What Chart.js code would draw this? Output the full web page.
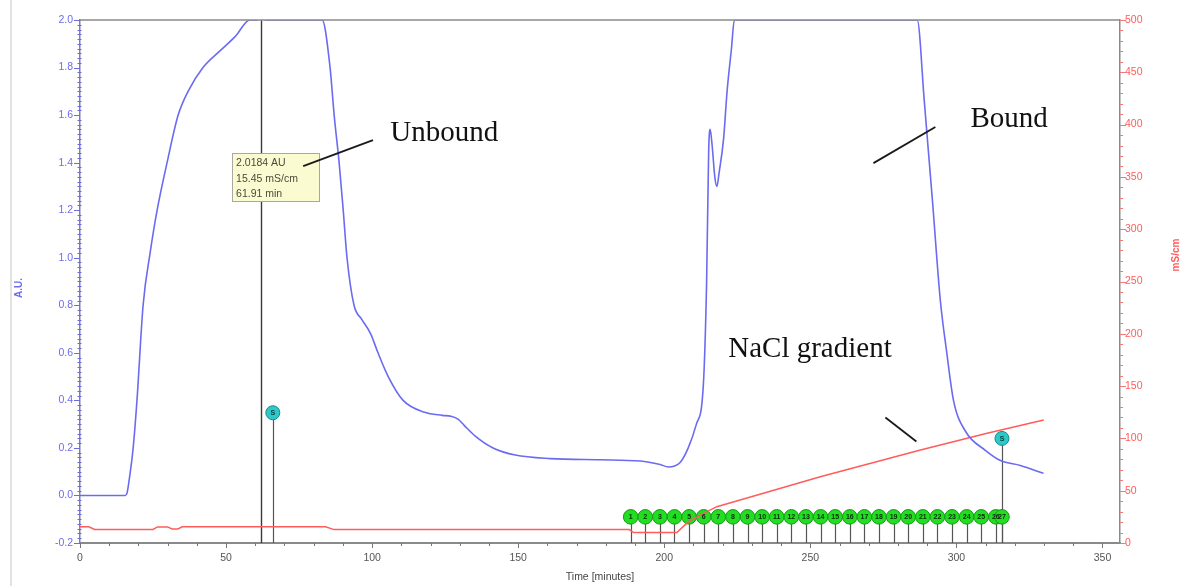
<!DOCTYPE html>
<html>
<head>
<meta charset="utf-8">
<script src="https://cdn.jsdelivr.net/npm/chart.js@4.4.1/dist/chart.umd.min.js"></script>
<style>
  html, body { margin: 0; padding: 0; background: #ffffff; }
  #wrap { width: 1182px; height: 586px; position: relative; }
</style>
</head>
<body>
<div id="wrap"><canvas id="c" width="1182" height="586"></canvas></div>
<script>
// UV absorbance trace: time (min) and absorbance (A.U.)
const uvTime = [0, 15.5, 16.1, 17.0, 18.2, 19.5, 21.6, 24.0, 26.4, 29.8, 33.6, 37.0, 42.1, 47.9, 53.1, 58.2,
  60.5, 61.91, 63.5, 82.9, 85.6, 87.0, 88.7, 90.1, 91.4, 93.8, 96.5, 99.5, 102.0, 105.5, 110.6, 118.0,
  124.0, 127.0, 129.5, 131.5, 135.3, 141.4, 149.0, 161.0, 178.0, 191.8, 198.6, 201.4, 205.5, 208.2, 211.0,
  213.3, 214.5, 215.2, 215.7, 216.4, 217.3, 218.0, 218.8, 220.3, 221.5, 223.0, 224.0, 286.6, 289.0,
  291.8, 294.5, 296.6, 299.0, 303.1, 309.9, 315.1, 321.9, 329.8];
const uvAbs = [0, 0, 0.01, 0.08, 0.2, 0.4, 0.8, 1.02, 1.2, 1.4, 1.6, 1.7, 1.8, 1.87, 1.93, 2.0,
  2.0, 2.0184, 2.0, 2.0, 1.8, 1.6, 1.4, 1.2, 1.0, 0.8, 0.74, 0.68, 0.6, 0.5, 0.4, 0.35,
  0.337, 0.333, 0.32, 0.295, 0.25, 0.2, 0.17, 0.155, 0.15, 0.145, 0.13, 0.12, 0.14, 0.2, 0.3,
  0.45, 0.9, 1.45, 1.54, 1.47, 1.34, 1.3, 1.36, 1.5, 1.7, 1.88, 2.0, 2.0, 1.66,
  1.24, 0.82, 0.61, 0.4, 0.27, 0.19, 0.147, 0.126, 0.093];

// Conductivity trace: time (min) and conductivity (mS/cm)
const condTime = [0, 3, 5, 25, 26.5, 30, 31.5, 33.5, 35, 61.91, 84, 87, 188, 189.5, 204.3, 208.3,
  213.5, 218, 253.4, 287.7, 310.5, 329.9];
const condVal = [15.6, 15.5, 13.0, 13.0, 15.4, 15.4, 13.4, 13.4, 15.45, 15.45, 15.45, 12.8, 12.8, 10.0, 10.0, 20.4,
  28.4, 34.7, 63.4, 88.9, 104.9, 117.6];

// Collected fractions (time of each fraction mark)
const fracTime = [188.5, 193.5, 198.5, 203.5, 208.5, 213.5, 218.5, 223.5, 228.5, 233.5, 238.5, 243.5, 248.5,
  253.5, 258.5, 263.5, 268.5, 273.5, 278.5, 283.5, 288.5, 293.5, 298.5, 303.5, 308.5, 313.5, 315.6];
const fracLabels = ['1','2','3','4','5','6','7','8','9','10','11','12','13','14','15','16','17','18','19',
  '20','21','22','23','24','25','26','27'];
const fracLevel = -0.09;

// Event markers (time, absorbance level)
const eventTime = [66.0, 315.6];
const eventLevel = [0.348, 0.24];
const eventLabels = ['S', 'S'];

// Cursor readout
const cursorTime = 61.91;
const cursorAbs = 2.0184;
const cursorCond = 15.45;
const cursorLines = ['2.0184 AU', '15.45 mS/cm', '61.91 min'];

// Axis ticks
const timeTicks = [0, 50, 100, 150, 200, 250, 300, 350];
const absTicks = [-0.2, 0.0, 0.2, 0.4, 0.6, 0.8, 1.0, 1.2, 1.4, 1.6, 1.8, 2.0];
const condTicks = [0, 50, 100, 150, 200, 250, 300, 350, 400, 450, 500];

// Text annotations: [text, time, absorbance baseline]
const notes = [
  ['Unbound', 106.2, 1.49],
  ['Bound', 304.8, 1.55],
  ['NaCl gradient', 221.9, 0.581]
];
// Pointer strokes: [t1, a1, t2, a2]
const pointers = [
  [76.4, 1.385, 100.3, 1.495],
  [271.6, 1.398, 292.8, 1.55],
  [275.7, 0.328, 286.3, 0.227]
];

const BLUE = '#6b6bf2';
const RED = '#ff5c5c';
const UI_FONT = "'Liberation Sans', Arial, sans-serif";

const zip = (xs, ys) => xs.map((x, i) => ({ x, y: ys[i] }));

const decor = {
  id: 'decor',
  beforeDraw(chart) {
    const ctx = chart.ctx;
    ctx.save();
    ctx.fillStyle = '#ffffff';
    ctx.fillRect(0, 0, chart.width, chart.height);
    // panel edge on the left
    ctx.strokeStyle = '#e2e2e2';
    ctx.lineWidth = 2;
    ctx.beginPath();
    ctx.moveTo(11, 0);
    ctx.lineTo(11, chart.height);
    ctx.stroke();
    ctx.restore();
  },
  beforeDatasetsDraw(chart) {
    const { ctx, scales, chartArea: ca } = chart;
    const x = scales.x, yA = scales.yAU;
    ctx.save();
    // fraction stems
    ctx.strokeStyle = '#555';
    ctx.lineWidth = 1.2;
    fracTime.forEach(t => {
      const px = Math.round(x.getPixelForValue(t)) + 0.5;
      ctx.beginPath();
      ctx.moveTo(px, yA.getPixelForValue(fracLevel));
      ctx.lineTo(px, ca.bottom);
      ctx.stroke();
    });
    eventTime.forEach((t, i) => {
      const px = Math.round(x.getPixelForValue(t)) + 0.5;
      ctx.beginPath();
      ctx.moveTo(px, yA.getPixelForValue(eventLevel[i]));
      ctx.lineTo(px, ca.bottom);
      ctx.stroke();
    });
    // cursor line
    ctx.strokeStyle = '#3a3a3a';
    ctx.lineWidth = 1.4;
    const cx = Math.round(x.getPixelForValue(cursorTime)) + 0.5;
    ctx.beginPath();
    ctx.moveTo(cx, ca.top);
    ctx.lineTo(cx, ca.bottom);
    ctx.stroke();
    ctx.restore();
  },
  afterDatasetsDraw(chart) {
    const { ctx, scales, chartArea: ca } = chart;
    const x = scales.x, yA = scales.yAU, yM = scales.yMS;
    ctx.save();
    // marker numbers
    ctx.fillStyle = '#0a2a0a';
    ctx.font = "bold 7px " + UI_FONT;
    ctx.textAlign = 'center';
    ctx.textBaseline = 'middle';
    fracTime.forEach((t, i) => {
      ctx.fillText(fracLabels[i], x.getPixelForValue(t), yA.getPixelForValue(fracLevel) + 0.5);
    });
    ctx.fillStyle = '#064040';
    eventTime.forEach((t, i) => {
      ctx.fillText(eventLabels[i], x.getPixelForValue(t), yA.getPixelForValue(eventLevel[i]) + 0.5);
    });

    // frame
    ctx.strokeStyle = '#8a8a8a';
    ctx.lineWidth = 1.5;
    ctx.beginPath();
    ctx.moveTo(ca.left, ca.top);
    ctx.lineTo(ca.right, ca.top);
    ctx.stroke();

    // minor / major tick marks
    ctx.lineWidth = 1;
    ctx.strokeStyle = '#6d6dd8';
    for (let v = -0.2; v <= 2.0001; v += 0.02) {
      const py = Math.round(yA.getPixelForValue(v)) + 0.5;
      const major = Math.abs(v * 5 - Math.round(v * 5)) < 1e-6;
      ctx.beginPath();
      ctx.moveTo(major ? ca.left - 6 : ca.left - 2.5, py);
      ctx.lineTo(ca.left + (major ? 0 : 1.5), py);
      ctx.stroke();
    }
    ctx.strokeStyle = '#f07a7a';
    for (let v = 0; v <= 500; v += 10) {
      const py = Math.round(yM.getPixelForValue(v)) + 0.5;
      const major = v % 50 === 0;
      ctx.beginPath();
      ctx.moveTo(ca.right, py);
      ctx.lineTo(ca.right + (major ? 6 : 3), py);
      ctx.stroke();
    }
    ctx.strokeStyle = '#777';
    for (let v = 0; v <= 356; v += 10) {
      const px = Math.round(x.getPixelForValue(v)) + 0.5;
      const major = v % 50 === 0;
      ctx.beginPath();
      ctx.moveTo(px, ca.bottom);
      ctx.lineTo(px, ca.bottom + (major ? 5 : 3));
      ctx.stroke();
    }

    // cursor readout box
    const bx = x.getPixelForValue(52.05), by = yA.getPixelForValue(1.44);
    ctx.fillStyle = '#fbfbd2';
    ctx.strokeStyle = '#a8a8a0';
    ctx.lineWidth = 1;
    ctx.fillRect(bx, by, 87, 48);
    ctx.strokeRect(Math.round(bx) + 0.5, Math.round(by) + 0.5, 87, 48);
    ctx.fillStyle = '#4a4a3a';
    ctx.font = "10.5px " + UI_FONT;
    ctx.textAlign = 'left';
    ctx.textBaseline = 'middle';
    cursorLines.forEach((s, i) => ctx.fillText(s, bx + 4, by + 10 + i * 15.5));

    // pointer strokes
    ctx.strokeStyle = '#1a1a1a';
    ctx.lineWidth = 1.8;
    pointers.forEach(p => {
      ctx.beginPath();
      ctx.moveTo(x.getPixelForValue(p[0]), yA.getPixelForValue(p[1]));
      ctx.lineTo(x.getPixelForValue(p[2]), yA.getPixelForValue(p[3]));
      ctx.stroke();
    });

    // annotation text
    ctx.fillStyle = '#111';
    ctx.font = "29px 'Liberation Serif', 'Times New Roman', serif";
    ctx.textAlign = 'left';
    ctx.textBaseline = 'alphabetic';
    notes.forEach(n => ctx.fillText(n[0], x.getPixelForValue(n[1]), yA.getPixelForValue(n[2])));

    // axis titles
    ctx.font = "bold 10px " + UI_FONT;
    ctx.fillStyle = BLUE;
    ctx.textAlign = 'center';
    ctx.textBaseline = 'middle';
    ctx.save();
    ctx.translate(19, 288);
    ctx.rotate(-Math.PI / 2);
    ctx.fillText('A.U.', 0, 0);
    ctx.restore();
    ctx.fillStyle = RED;
    ctx.save();
    ctx.translate(1176, 255);
    ctx.rotate(-Math.PI / 2);
    ctx.fillText('mS/cm', 0, 0);
    ctx.restore();
    ctx.fillStyle = '#444';
    ctx.font = "10.5px " + UI_FONT;
    ctx.fillText('Time [minutes]', (ca.left + ca.right) / 2, 577);
    ctx.restore();
  }
};

new Chart(document.getElementById('c'), {
  type: 'scatter',
  data: {
    datasets: [
      {
        label: 'UV',
        data: zip(uvTime, uvAbs),
        yAxisID: 'yAU',
        showLine: true,
        borderColor: BLUE,
        borderWidth: 1.6,
        pointRadius: 0,
        cubicInterpolationMode: 'monotone',
        order: 1
      },
      {
        label: 'Conductivity',
        data: zip(condTime, condVal),
        yAxisID: 'yMS',
        showLine: true,
        borderColor: RED,
        borderWidth: 1.5,
        pointRadius: 0,
        tension: 0,
        order: 2
      },
      {
        label: 'Fractions',
        data: fracTime.map(t => ({ x: t, y: fracLevel })),
        yAxisID: 'yAU',
        pointRadius: 7.3,
        pointBackgroundColor: '#22dd22',
        pointBorderColor: '#169a16',
        pointBorderWidth: 1,
        order: 3
      },
      {
        label: 'Events',
        data: zip(eventTime, eventLevel),
        yAxisID: 'yAU',
        pointRadius: 7,
        pointBackgroundColor: '#2fc8c8',
        pointBorderColor: '#178a8a',
        pointBorderWidth: 1,
        order: 4
      }
    ]
  },
  options: {
    responsive: false,
    devicePixelRatio: 1,
    animation: false,
    layout: { padding: { top: 20, left: 0, right: 0, bottom: 0 } },
    plugins: { legend: { display: false }, tooltip: { enabled: false } },
    scales: {
      x: {
        type: 'linear',
        min: 0,
        max: 356,
        afterBuildTicks: s => { s.ticks = timeTicks.map(v => ({ value: v })); },
        afterFit: s => { s.height = 43; },
        grid: { display: false, drawTicks: false },
        border: { display: true, color: '#8a8a8a', width: 2 },
        ticks: { color: '#555', padding: 9, font: { size: 10.5, family: UI_FONT }, maxRotation: 0 }
      },
      yAU: {
        type: 'linear',
        position: 'left',
        min: -0.2,
        max: 2.0,
        afterBuildTicks: s => { s.ticks = absTicks.map(v => ({ value: v })); },
        afterFit: s => { s.width = 80; },
        grid: { display: false, drawTicks: false },
        border: { display: true, color: '#7c7cb8', width: 1.5 },
        ticks: {
          color: BLUE, padding: 7, font: { size: 10.5, family: UI_FONT },
          callback: v => Number(v).toFixed(1)
        }
      },
      yMS: {
        type: 'linear',
        position: 'right',
        min: 0,
        max: 500,
        afterBuildTicks: s => { s.ticks = condTicks.map(v => ({ value: v })); },
        afterFit: s => { s.width = 62; },
        grid: { display: false, drawTicks: false },
        border: { display: true, color: '#8a8a8a', width: 1.5 },
        ticks: { color: RED, padding: 5, font: { size: 10.5, family: UI_FONT } }
      }
    }
  },
  plugins: [decor]
});
</script>
</body>
</html>
